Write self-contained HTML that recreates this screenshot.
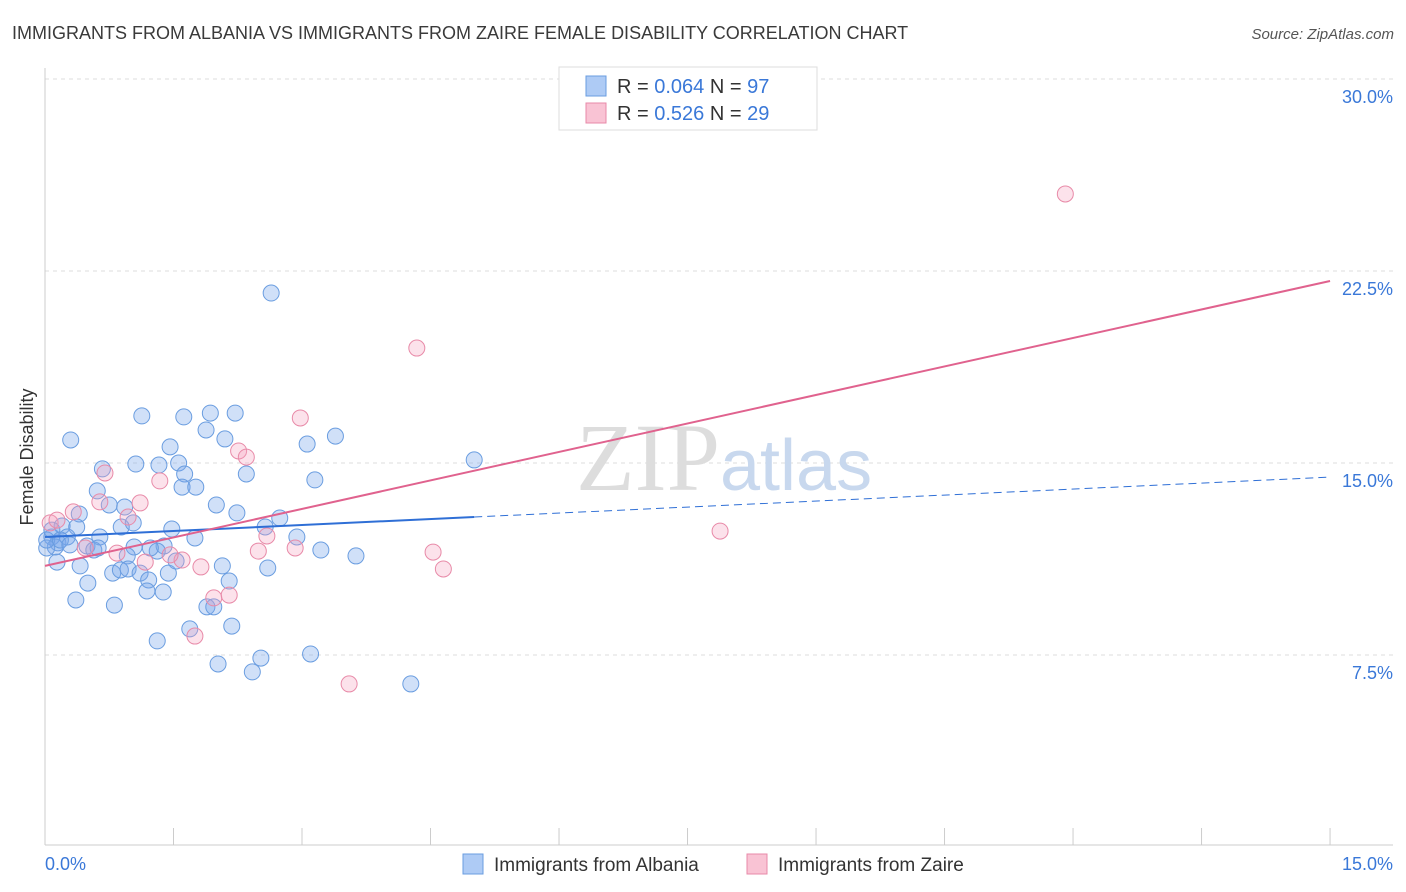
<!DOCTYPE html>
<html><head><meta charset="utf-8"><style>
body{margin:0;background:#fff;font-family:"Liberation Sans",sans-serif}
svg{display:block}
</style></head><body>
<svg id="chart" width="1406" height="892">
<text x="12" y="39" font-size="18" fill="#3a3a3a">IMMIGRANTS FROM ALBANIA VS IMMIGRANTS FROM ZAIRE FEMALE DISABILITY CORRELATION CHART</text>
<text x="1394" y="39" font-size="15" fill="#555" font-style="italic" text-anchor="end">Source: ZipAtlas.com</text>
<text x="33" y="457" font-size="18" fill="#333" text-anchor="middle" transform="rotate(-90 33 457)">Female Disability</text>
<g id="grid"></g>
<text x="720" y="490" font-size="96" fill="#ddd" font-family="Liberation Serif" text-anchor="end">ZIP</text>
<text x="720" y="490" font-size="72" fill="#c8d8ee">atlas</text>
<g id="pts"></g>
<g id="lines"></g>
<g>
<rect x="559" y="67" width="258" height="63" fill="#fff" stroke="#ddd"/>
<rect x="586" y="76" width="20" height="20" fill="#aecbf5" stroke="#6a9de0"/>
<rect x="586" y="103" width="20" height="20" fill="#f9c3d4" stroke="#e88aa8"/>
<text x="617" y="93" font-size="20" fill="#333">R = <tspan fill="#3a78d8">0.064</tspan>   N = <tspan fill="#3a78d8">97</tspan></text>
<text x="617" y="120" font-size="20" fill="#333">R = <tspan fill="#3a78d8"> 0.526</tspan>   N = <tspan fill="#3a78d8">29</tspan></text>
</g>
<g>
<rect x="463" y="854" width="20" height="20" fill="#aecbf5" stroke="#6a9de0"/>
<text x="494" y="871" font-size="19" fill="#333">Immigrants from Albania</text>
<rect x="747" y="854" width="20" height="20" fill="#f9c3d4" stroke="#e88aa8"/>
<text x="778" y="871" font-size="19" fill="#333">Immigrants from Zaire</text>
</g>
</svg>
<script>
const yTicks=[7.5,15,22.5,30];
const yTickLabels=["7.5%","15.0%","22.5%","30.0%"];
const xTickLabels=["0.0%","15.0%"];
const albaniaX=[2.64,0.30,1.13,1.62,1.93,2.22,1.88,2.10,1.46,3.06,3.39,5.01,0.67,1.06,1.33,1.56,1.63,2.35,1.60,1.76,3.15,0.61,0.75,0.93,0.40,2.00,2.24,2.74,0.20,0.37,0.89,1.03,1.48,2.57,0.08,0.15,0.26,0.64,1.75,2.94,0.49,0.57,1.04,1.39,0.12,1.31,0.96,3.22,3.63,0.02,0.14,0.41,0.79,0.88,0.97,1.11,1.44,1.53,2.07,2.60,0.50,1.21,2.15,1.19,1.38,0.36,0.81,1.89,1.97,1.69,2.18,1.31,2.02,2.52,3.10,2.42,4.27,0.02,0.08,0.18,0.29,0.62,1.23];
const albaniaY=[21.64,15.90,16.84,16.80,16.95,16.95,16.29,15.94,15.63,15.74,16.05,15.12,14.77,14.96,14.92,15.00,14.57,14.57,14.06,14.06,14.34,13.91,13.36,13.28,13.01,13.36,13.05,12.85,12.54,12.50,12.50,12.66,12.42,12.50,12.11,11.88,12.11,12.11,12.07,12.11,11.76,11.60,11.72,11.76,11.72,11.56,11.37,11.60,11.37,11.68,11.13,10.98,10.70,10.82,10.86,10.70,10.70,11.17,10.98,10.90,10.31,10.43,10.39,10.00,9.96,9.65,9.45,9.38,9.38,8.52,8.63,8.05,7.15,7.38,7.54,6.84,6.37,11.99,12.38,11.99,11.80,11.68,11.68];
const zaireX=[11.91,4.34,2.98,0.70,2.26,2.35,1.34,1.11,0.33,0.97,0.06,0.47,0.84,1.17,1.60,2.59,2.92,2.49,1.82,4.53,4.65,7.88,1.97,2.15,1.75,3.55,0.64,1.46,0.14];
const zaireY=[25.51,19.49,16.76,14.61,15.47,15.23,14.30,13.44,13.09,12.89,12.66,11.68,11.48,11.13,11.21,12.15,11.68,11.56,10.94,11.52,10.86,12.34,9.73,9.84,8.24,6.37,13.48,11.41,12.77];
const albaniaTrend=[12.11,12.89,14.45]; // at x=0, 5.01, 15
const albaniaTrendX=[0,5.01,15];
const zaireTrend=[10.98,22.11];
const zaireTrendX=[0,15];

const NS="http://www.w3.org/2000/svg";
const X=v=>45+v*85.67;
const Y=v=>847-v*25.6;
function mk(tag,attrs,parent){const e=document.createElementNS(NS,tag);for(const k in attrs)e.setAttribute(k,attrs[k]);parent.appendChild(e);return e;}
const grid=document.getElementById('grid');
yTicks.forEach((t,i)=>{
 const l=mk('line',{x1:45,x2:1393,y1:Y(t),y2:Y(t),stroke:'#ddd','stroke-dasharray':'4,4'},grid);
 
 
 const tx=mk('text',{x:1393,y:Y(t)+24,'font-size':18,fill:'#3a78d8','text-anchor':'end'},grid);
 tx.textContent=yTickLabels[i];
 
 
});
const ax=mk('line',{x1:45,x2:45,y1:68,y2:845,stroke:'#ccc'},grid);


const bx=mk('line',{x1:45,x2:1393,y1:845,y2:845,stroke:'#ccc'},grid);


for(let i=0;i<=10;i++){
 const t=mk('line',{x1:X(i*1.5),x2:X(i*1.5),y1:828,y2:845,stroke:'#ccc'},grid);
 
 
}
[[0,'start',45],[15,'end',1393]].forEach((d,i)=>{
 const t=mk('text',{x:d[2],y:870,'font-size':18,fill:'#3a78d8','text-anchor':d[1]},grid);
 t.textContent=xTickLabels[i];
 
 
});
const pts=document.getElementById('pts');
albaniaX.forEach((x,i)=>{
 const c=mk('circle',{cx:X(x),cy:Y(albaniaY[i]),r:8,fill:'rgba(120,165,235,0.35)',stroke:'#6a9de0','stroke-width':1},pts);
 
 
});
zaireX.forEach((x,i)=>{
 const c=mk('circle',{cx:X(x),cy:Y(zaireY[i]),r:8,fill:'rgba(245,160,190,0.3)',stroke:'#e88aa8','stroke-width':1},pts);
 
 
});
const lines=document.getElementById('lines');
const b1=mk('line',{x1:X(albaniaTrendX[0]),y1:Y(albaniaTrend[0]),x2:X(albaniaTrendX[1]),y2:Y(albaniaTrend[1]),stroke:'#2f6fd6','stroke-width':2},lines);


const b2=mk('line',{x1:X(albaniaTrendX[1]),y1:Y(albaniaTrend[1]),x2:X(albaniaTrendX[2]),y2:Y(albaniaTrend[2]),stroke:'#2f6fd6','stroke-width':1,'stroke-dasharray':'8,5'},lines);


const p1=mk('line',{x1:X(zaireTrendX[0]),y1:Y(zaireTrend[0]),x2:X(zaireTrendX[1]),y2:Y(zaireTrend[1]),stroke:'#e0628e','stroke-width':2},lines);


</script>
</body></html>
